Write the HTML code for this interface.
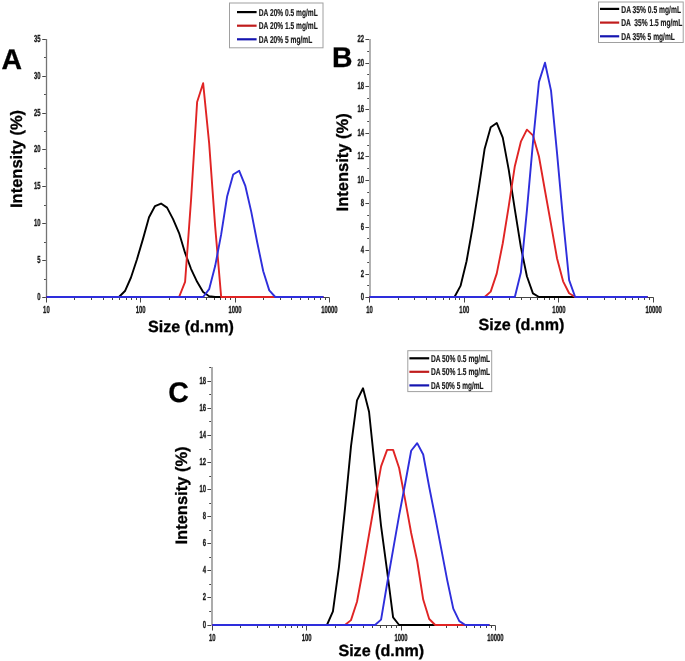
<!DOCTYPE html>
<html><head><meta charset="utf-8"><style>
html,body{margin:0;padding:0;background:#fff;}
body{width:685px;height:661px;overflow:hidden;}
svg{display:block;will-change:transform;text-rendering:geometricPrecision;font-family:"Liberation Sans", sans-serif;}
</style></head><body>
<svg width="685" height="661" viewBox="0 0 685 661">
<rect width="685" height="661" fill="#fff"/>
<path d="M46.4 297.5 H329.39" stroke="#454545" stroke-width="1" fill="none"/>
<path d="M46.5 39 V298" stroke="#747474" stroke-width="1.3" fill="none"/>
<g stroke="#454545" stroke-width="1" fill="none">
<path d="M42.25 297.5 H45.85"/>
<path d="M44.05 279.5 H45.85"/>
<path d="M42.25 260.5 H45.85"/>
<path d="M44.05 242.5 H45.85"/>
<path d="M42.25 223.5 H45.85"/>
<path d="M44.05 205.5 H45.85"/>
<path d="M42.25 186.5 H45.85"/>
<path d="M44.05 168.5 H45.85"/>
<path d="M42.25 149.5 H45.85"/>
<path d="M44.05 131.5 H45.85"/>
<path d="M42.25 113.5 H45.85"/>
<path d="M44.05 94.5 H45.85"/>
<path d="M42.25 76.5 H45.85"/>
<path d="M44.05 57.5 H45.85"/>
<path d="M42.25 39.5 H45.85"/>
<path d="M46.5 297.5 V302.5"/>
<path d="M74.5 297.5 V300"/>
<path d="M91.5 297.5 V300"/>
<path d="M103.5 297.5 V300"/>
<path d="M112.5 297.5 V300"/>
<path d="M119.5 297.5 V300"/>
<path d="M126.5 297.5 V300"/>
<path d="M131.5 297.5 V300"/>
<path d="M136.5 297.5 V300"/>
<path d="M140.5 297.5 V302.5"/>
<path d="M169.5 297.5 V300"/>
<path d="M185.5 297.5 V300"/>
<path d="M197.5 297.5 V300"/>
<path d="M206.5 297.5 V300"/>
<path d="M214.5 297.5 V300"/>
<path d="M220.5 297.5 V300"/>
<path d="M225.5 297.5 V300"/>
<path d="M230.5 297.5 V300"/>
<path d="M235.5 297.5 V302.5"/>
<path d="M263.5 297.5 V300"/>
<path d="M280.5 297.5 V300"/>
<path d="M291.5 297.5 V300"/>
<path d="M300.5 297.5 V300"/>
<path d="M308.5 297.5 V300"/>
<path d="M314.5 297.5 V300"/>
<path d="M320.5 297.5 V300"/>
<path d="M325.5 297.5 V300"/>
<path d="M329.5 297.5 V302.5"/>
</g>
<g fill="#1a1a1a" font-weight="bold" stroke="#1a1a1a" stroke-width="0.35">
<text transform="translate(40.5 299.9) scale(0.58 1)" text-anchor="end" font-size="10.2">0</text>
<text transform="translate(40.5 262.9) scale(0.58 1)" text-anchor="end" font-size="10.2">5</text>
<text transform="translate(40.5 225.9) scale(0.58 1)" text-anchor="end" font-size="10.2">10</text>
<text transform="translate(40.5 188.9) scale(0.58 1)" text-anchor="end" font-size="10.2">15</text>
<text transform="translate(40.5 151.9) scale(0.58 1)" text-anchor="end" font-size="10.2">20</text>
<text transform="translate(40.5 115.9) scale(0.58 1)" text-anchor="end" font-size="10.2">25</text>
<text transform="translate(40.5 78.9) scale(0.58 1)" text-anchor="end" font-size="10.2">30</text>
<text transform="translate(40.5 41.9) scale(0.58 1)" text-anchor="end" font-size="10.2">35</text>
<text transform="translate(46.4 312.8) scale(0.58 1)" text-anchor="middle" font-size="10.2">10</text>
<text transform="translate(140.73 312.8) scale(0.58 1)" text-anchor="middle" font-size="10.2">100</text>
<text transform="translate(235.06 312.8) scale(0.58 1)" text-anchor="middle" font-size="10.2">1000</text>
<text transform="translate(329.39 312.8) scale(0.58 1)" text-anchor="middle" font-size="10.2">10000</text>
</g>
<path d="M46.4 297 L46.81 297 L52.82 297 L58.83 297 L64.84 297 L70.86 297 L76.87 297 L82.88 297 L88.89 297 L94.91 297 L100.92 297 L106.93 297 L112.94 297 L118.95 297 L124.97 291.04 L130.98 277.5 L136.99 259.24 L143 238.86 L149.02 217.29 L155.03 206.03 L161.04 203.53 L167.05 207.65 L173.07 219.13 L179.08 233.04 L185.09 252.91 L191.1 269.03 L197.12 281.84 L203.13 292.07 L209.14 296.19 L215.15 297 L221.17 297 L227.18 297 L233.19 297 L239.2 297 L245.22 297 L251.23 297 L257.24 297 L263.25 297 L269.27 297 L275.28 297 L281.29 297 L287.3 297 L293.32 297 L299.33 297 L305.34 297 L311.35 297 L317.37 297 L323.38 297" fill="none" stroke="#000" stroke-width="1.9" stroke-linejoin="round"/>
<path d="M46.4 297 L46.81 297 L52.82 297 L58.83 297 L64.84 297 L70.86 297 L76.87 297 L82.88 297 L88.89 297 L94.91 297 L100.92 297 L106.93 297 L112.94 297 L118.95 297 L124.97 297 L130.98 297 L136.99 297 L143 297 L149.02 297 L155.03 297 L161.04 297 L167.05 297 L173.07 297 L179.08 297 L185.09 281.84 L191.1 199.11 L197.12 101.96 L203.13 83.19 L209.14 143.18 L215.15 226.34 L221.17 297 L227.18 297 L233.19 297 L239.2 297 L245.22 297 L251.23 297 L257.24 297 L263.25 297 L269.27 297 L275.28 297 L281.29 297 L287.3 297 L293.32 297 L299.33 297 L305.34 297 L311.35 297 L317.37 297 L323.38 297" fill="none" stroke="#e02424" stroke-width="1.9" stroke-linejoin="round"/>
<path d="M46.4 297 L46.81 297 L52.82 297 L58.83 297 L64.84 297 L70.86 297 L76.87 297 L82.88 297 L88.89 297 L94.91 297 L100.92 297 L106.93 297 L112.94 297 L118.95 297 L124.97 297 L130.98 297 L136.99 297 L143 297 L149.02 297 L155.03 297 L161.04 297 L167.05 297 L173.07 297 L179.08 297 L185.09 297 L191.1 297 L197.12 297 L203.13 297 L209.14 289.2 L215.15 266.09 L221.17 234.44 L227.18 196.17 L233.19 174.46 L239.2 170.78 L245.22 185.57 L251.23 211.62 L257.24 242.54 L263.25 271.24 L269.27 290.38 L275.28 297 L281.29 297 L287.3 297 L293.32 297 L299.33 297 L305.34 297 L311.35 297 L317.37 297 L323.38 297" fill="none" stroke="#2e2edc" stroke-width="1.9" stroke-linejoin="round"/>
<path d="M369.6 297.5 H653.61" stroke="#454545" stroke-width="1" fill="none"/>
<path d="M370 39 V298" stroke="#b2b2b2" stroke-width="2.0" fill="none"/>
<g stroke="#454545" stroke-width="1" fill="none">
<path d="M365.4 297.5 H369"/>
<path d="M367.2 285.5 H369"/>
<path d="M365.4 274.5 H369"/>
<path d="M367.2 262.5 H369"/>
<path d="M365.4 250.5 H369"/>
<path d="M367.2 238.5 H369"/>
<path d="M365.4 227.5 H369"/>
<path d="M367.2 215.5 H369"/>
<path d="M365.4 203.5 H369"/>
<path d="M367.2 192.5 H369"/>
<path d="M365.4 180.5 H369"/>
<path d="M367.2 168.5 H369"/>
<path d="M365.4 156.5 H369"/>
<path d="M367.2 145.5 H369"/>
<path d="M365.4 133.5 H369"/>
<path d="M367.2 121.5 H369"/>
<path d="M365.4 109.5 H369"/>
<path d="M367.2 98.5 H369"/>
<path d="M365.4 86.5 H369"/>
<path d="M367.2 74.5 H369"/>
<path d="M365.4 63.5 H369"/>
<path d="M367.2 51.5 H369"/>
<path d="M365.4 39.5 H369"/>
<path d="M369.5 297.5 V302.5"/>
<path d="M398.5 297.5 V300"/>
<path d="M414.5 297.5 V300"/>
<path d="M426.5 297.5 V300"/>
<path d="M435.5 297.5 V300"/>
<path d="M443.5 297.5 V300"/>
<path d="M449.5 297.5 V300"/>
<path d="M455.5 297.5 V300"/>
<path d="M459.5 297.5 V300"/>
<path d="M464.5 297.5 V302.5"/>
<path d="M492.5 297.5 V300"/>
<path d="M509.5 297.5 V300"/>
<path d="M521.5 297.5 V300"/>
<path d="M530.5 297.5 V300"/>
<path d="M537.5 297.5 V300"/>
<path d="M544.5 297.5 V300"/>
<path d="M549.5 297.5 V300"/>
<path d="M554.5 297.5 V300"/>
<path d="M558.5 297.5 V302.5"/>
<path d="M587.5 297.5 V300"/>
<path d="M604.5 297.5 V300"/>
<path d="M615.5 297.5 V300"/>
<path d="M625.5 297.5 V300"/>
<path d="M632.5 297.5 V300"/>
<path d="M638.5 297.5 V300"/>
<path d="M644.5 297.5 V300"/>
<path d="M649.5 297.5 V300"/>
<path d="M653.5 297.5 V302.5"/>
</g>
<g fill="#1a1a1a" font-weight="bold" stroke="#1a1a1a" stroke-width="0.35">
<text transform="translate(364 299.9) scale(0.58 1)" text-anchor="end" font-size="10.2">0</text>
<text transform="translate(364 276.9) scale(0.58 1)" text-anchor="end" font-size="10.2">2</text>
<text transform="translate(364 252.9) scale(0.58 1)" text-anchor="end" font-size="10.2">4</text>
<text transform="translate(364 229.9) scale(0.58 1)" text-anchor="end" font-size="10.2">6</text>
<text transform="translate(364 205.9) scale(0.58 1)" text-anchor="end" font-size="10.2">8</text>
<text transform="translate(364 182.9) scale(0.58 1)" text-anchor="end" font-size="10.2">10</text>
<text transform="translate(364 158.9) scale(0.58 1)" text-anchor="end" font-size="10.2">12</text>
<text transform="translate(364 135.9) scale(0.58 1)" text-anchor="end" font-size="10.2">14</text>
<text transform="translate(364 111.9) scale(0.58 1)" text-anchor="end" font-size="10.2">16</text>
<text transform="translate(364 88.9) scale(0.58 1)" text-anchor="end" font-size="10.2">18</text>
<text transform="translate(364 65.9) scale(0.58 1)" text-anchor="end" font-size="10.2">20</text>
<text transform="translate(364 41.9) scale(0.58 1)" text-anchor="end" font-size="10.2">22</text>
<text transform="translate(369.6 312.8) scale(0.58 1)" text-anchor="middle" font-size="10.2">10</text>
<text transform="translate(464.27 312.8) scale(0.58 1)" text-anchor="middle" font-size="10.2">100</text>
<text transform="translate(558.94 312.8) scale(0.58 1)" text-anchor="middle" font-size="10.2">1000</text>
<text transform="translate(653.61 312.8) scale(0.58 1)" text-anchor="middle" font-size="10.2">10000</text>
</g>
<path d="M369.6 297 L370.01 297 L376.04 297 L382.08 297 L388.11 297 L394.14 297 L400.18 297 L406.21 297 L412.25 297 L418.28 297 L424.31 297 L430.35 297 L436.38 297 L442.42 297 L448.45 297 L454.48 297 L460.52 285.9 L466.55 261.26 L472.59 227.39 L478.62 188.84 L484.66 148.66 L490.69 127.17 L496.72 122.97 L502.76 137.68 L508.79 170.16 L514.83 209.4 L520.86 247.13 L526.89 276.21 L532.93 293.38 L538.96 297 L545 297 L551.03 297 L557.06 297 L563.1 297 L569.13 297 L575.17 297 L581.2 297 L587.23 297 L593.27 297 L599.3 297 L605.34 297 L611.37 297 L617.41 297 L623.44 297 L629.47 297 L635.51 297 L641.54 297 L647.58 297" fill="none" stroke="#000" stroke-width="1.9" stroke-linejoin="round"/>
<path d="M369.6 297 L370.01 297 L376.04 297 L382.08 297 L388.11 297 L394.14 297 L400.18 297 L406.21 297 L412.25 297 L418.28 297 L424.31 297 L430.35 297 L436.38 297 L442.42 297 L448.45 297 L454.48 297 L460.52 297 L466.55 297 L472.59 297 L478.62 297 L484.66 297 L490.69 291.63 L496.72 273.64 L502.76 243.27 L508.79 205.9 L514.83 166.18 L520.86 141.66 L526.89 129.63 L532.93 135.35 L538.96 156.49 L545 190.71 L551.03 224.35 L557.06 258.46 L563.1 281.35 L569.13 293.26 L575.17 297 L581.2 297 L587.23 297 L593.27 297 L599.3 297 L605.34 297 L611.37 297 L617.41 297 L623.44 297 L629.47 297 L635.51 297 L641.54 297 L647.58 297" fill="none" stroke="#e02424" stroke-width="1.9" stroke-linejoin="round"/>
<path d="M369.6 297 L370.01 297 L376.04 297 L382.08 297 L388.11 297 L394.14 297 L400.18 297 L406.21 297 L412.25 297 L418.28 297 L424.31 297 L430.35 297 L436.38 297 L442.42 297 L448.45 297 L454.48 297 L460.52 297 L466.55 297 L472.59 297 L478.62 297 L484.66 297 L490.69 297 L496.72 297 L502.76 297 L508.79 297 L514.83 297 L520.86 272.47 L526.89 210.57 L532.93 142.82 L538.96 81.85 L545 62.7 L551.03 90.61 L557.06 153.34 L563.1 219.91 L569.13 280.06 L575.17 297 L581.2 297 L587.23 297 L593.27 297 L599.3 297 L605.34 297 L611.37 297 L617.41 297 L623.44 297 L629.47 297 L635.51 297 L641.54 297 L647.58 297" fill="none" stroke="#2e2edc" stroke-width="1.9" stroke-linejoin="round"/>
<path d="M212.2 625.5 H495.4" stroke="#454545" stroke-width="1" fill="none"/>
<path d="M212 367 V626" stroke="#ababab" stroke-width="2.0" fill="none"/>
<g stroke="#454545" stroke-width="1" fill="none">
<path d="M207.4 625.5 H211"/>
<path d="M209.2 611.5 H211"/>
<path d="M207.4 597.5 H211"/>
<path d="M209.2 584.5 H211"/>
<path d="M207.4 570.5 H211"/>
<path d="M209.2 557.5 H211"/>
<path d="M207.4 543.5 H211"/>
<path d="M209.2 530.5 H211"/>
<path d="M207.4 516.5 H211"/>
<path d="M209.2 503.5 H211"/>
<path d="M207.4 489.5 H211"/>
<path d="M209.2 476.5 H211"/>
<path d="M207.4 462.5 H211"/>
<path d="M209.2 449.5 H211"/>
<path d="M207.4 435.5 H211"/>
<path d="M209.2 421.5 H211"/>
<path d="M207.4 408.5 H211"/>
<path d="M209.2 394.5 H211"/>
<path d="M207.4 381.5 H211"/>
<path d="M209.2 367.5 H211"/>
<path d="M212.5 625.5 V630.5"/>
<path d="M240.5 625.5 V628"/>
<path d="M257.5 625.5 V628"/>
<path d="M269.5 625.5 V628"/>
<path d="M278.5 625.5 V628"/>
<path d="M285.5 625.5 V628"/>
<path d="M291.5 625.5 V628"/>
<path d="M297.5 625.5 V628"/>
<path d="M302.5 625.5 V628"/>
<path d="M306.5 625.5 V630.5"/>
<path d="M335.5 625.5 V628"/>
<path d="M351.5 625.5 V628"/>
<path d="M363.5 625.5 V628"/>
<path d="M372.5 625.5 V628"/>
<path d="M380.5 625.5 V628"/>
<path d="M386.5 625.5 V628"/>
<path d="M391.5 625.5 V628"/>
<path d="M396.5 625.5 V628"/>
<path d="M401.5 625.5 V630.5"/>
<path d="M429.5 625.5 V628"/>
<path d="M446.5 625.5 V628"/>
<path d="M457.5 625.5 V628"/>
<path d="M466.5 625.5 V628"/>
<path d="M474.5 625.5 V628"/>
<path d="M480.5 625.5 V628"/>
<path d="M486.5 625.5 V628"/>
<path d="M491.5 625.5 V628"/>
<path d="M495.5 625.5 V630.5"/>
</g>
<g fill="#1a1a1a" font-weight="bold" stroke="#1a1a1a" stroke-width="0.35">
<text transform="translate(206 627.9) scale(0.58 1)" text-anchor="end" font-size="10.2">0</text>
<text transform="translate(206 599.9) scale(0.58 1)" text-anchor="end" font-size="10.2">2</text>
<text transform="translate(206 572.9) scale(0.58 1)" text-anchor="end" font-size="10.2">4</text>
<text transform="translate(206 545.9) scale(0.58 1)" text-anchor="end" font-size="10.2">6</text>
<text transform="translate(206 518.9) scale(0.58 1)" text-anchor="end" font-size="10.2">8</text>
<text transform="translate(206 491.9) scale(0.58 1)" text-anchor="end" font-size="10.2">10</text>
<text transform="translate(206 464.9) scale(0.58 1)" text-anchor="end" font-size="10.2">12</text>
<text transform="translate(206 437.9) scale(0.58 1)" text-anchor="end" font-size="10.2">14</text>
<text transform="translate(206 410.9) scale(0.58 1)" text-anchor="end" font-size="10.2">16</text>
<text transform="translate(206 383.9) scale(0.58 1)" text-anchor="end" font-size="10.2">18</text>
<text transform="translate(212.2 640.8) scale(0.58 1)" text-anchor="middle" font-size="10.2">10</text>
<text transform="translate(306.6 640.8) scale(0.58 1)" text-anchor="middle" font-size="10.2">100</text>
<text transform="translate(401 640.8) scale(0.58 1)" text-anchor="middle" font-size="10.2">1000</text>
<text transform="translate(495.4 640.8) scale(0.58 1)" text-anchor="middle" font-size="10.2">10000</text>
</g>
<path d="M212.2 625 L212.61 625 L218.62 625 L224.64 625 L230.66 625 L236.67 625 L242.69 625 L248.71 625 L254.72 625 L260.74 625 L266.76 625 L272.78 625 L278.79 625 L284.81 625 L290.83 625 L296.84 625 L302.86 625 L308.88 625 L314.89 625 L320.91 625 L326.93 625 L332.94 611.47 L338.96 566.82 L344.98 508.64 L350.99 446.4 L357.01 400.4 L363.03 388.23 L369.05 411.77 L375.06 469.4 L381.08 526.23 L387.1 570.88 L393.11 617.42 L399.13 625 L405.15 625 L411.16 625 L417.18 625 L423.2 625 L429.21 625 L435.23 625 L441.25 625 L447.26 625 L453.28 625 L459.3 625 L465.32 625 L471.33 625 L477.35 625 L483.37 625 L489.38 625" fill="none" stroke="#000" stroke-width="1.9" stroke-linejoin="round"/>
<path d="M212.2 625 L212.61 625 L218.62 625 L224.64 625 L230.66 625 L236.67 625 L242.69 625 L248.71 625 L254.72 625 L260.74 625 L266.76 625 L272.78 625 L278.79 625 L284.81 625 L290.83 625 L296.84 625 L302.86 625 L308.88 625 L314.89 625 L320.91 625 L326.93 625 L332.94 625 L338.96 625 L344.98 625 L350.99 620.13 L357.01 601.73 L363.03 569.26 L369.05 534.48 L375.06 499.85 L381.08 466.43 L387.1 449.92 L393.11 449.92 L399.13 468.05 L405.15 499.85 L411.16 533 L417.18 561 L423.2 599.56 L429.21 619.05 L435.23 625 L441.25 625 L447.26 625 L453.28 625 L459.3 625 L465.32 625 L471.33 625 L477.35 625 L483.37 625 L489.38 625" fill="none" stroke="#e02424" stroke-width="1.9" stroke-linejoin="round"/>
<path d="M212.2 625 L212.61 625 L218.62 625 L224.64 625 L230.66 625 L236.67 625 L242.69 625 L248.71 625 L254.72 625 L260.74 625 L266.76 625 L272.78 625 L278.79 625 L284.81 625 L290.83 625 L296.84 625 L302.86 625 L308.88 625 L314.89 625 L320.91 625 L326.93 625 L332.94 625 L338.96 625 L344.98 625 L350.99 625 L357.01 625 L363.03 625 L369.05 625 L375.06 625 L381.08 619.59 L387.1 583.73 L393.11 549.64 L399.13 515.41 L405.15 483.75 L411.16 450.73 L417.18 443.16 L423.2 454.52 L429.21 486.99 L435.23 517.44 L441.25 548.83 L447.26 580.35 L453.28 608.63 L459.3 621.08 L465.32 625 L471.33 625 L477.35 625 L483.37 625 L489.38 625" fill="none" stroke="#2e2edc" stroke-width="1.9" stroke-linejoin="round"/>
<rect x="229.5" y="3" width="93.5" height="44.8" fill="#fff" stroke="#a0a0a0" stroke-width="1"/>
<path d="M237 12.1 H256.6" stroke="#000" stroke-width="2.2"/>
<text x="258.8" y="15.7" font-size="10" font-weight="bold" fill="#1a1a1a" stroke="#1a1a1a" stroke-width="0.2" textLength="59" lengthAdjust="spacingAndGlyphs">DA 20% 0.5 mg/mL</text>
<path d="M237 25.7 H256.6" stroke="#c01c1c" stroke-width="2.2"/>
<text x="258.8" y="29.3" font-size="10" font-weight="bold" fill="#1a1a1a" stroke="#1a1a1a" stroke-width="0.2" textLength="59" lengthAdjust="spacingAndGlyphs">DA 20% 1.5 mg/mL</text>
<path d="M237 39.3 H256.6" stroke="#1515b0" stroke-width="2.2"/>
<text x="258.8" y="42.9" font-size="10" font-weight="bold" fill="#1a1a1a" stroke="#1a1a1a" stroke-width="0.2" textLength="53.4" lengthAdjust="spacingAndGlyphs">DA 20% 5 mg/mL</text>
<rect x="598.5" y="2" width="84.7" height="40.5" fill="#fff" stroke="#a0a0a0" stroke-width="1"/>
<path d="M600 8.9 H619.2" stroke="#000" stroke-width="2.2"/>
<text x="621.3" y="12.5" font-size="10" font-weight="bold" fill="#1a1a1a" stroke="#1a1a1a" stroke-width="0.2" textLength="59.7" lengthAdjust="spacingAndGlyphs">DA 35% 0.5 mg/mL</text>
<path d="M600 22.6 H619.2" stroke="#c01c1c" stroke-width="2.2"/>
<text x="621.3" y="26.2" font-size="10" font-weight="bold" fill="#1a1a1a" stroke="#1a1a1a" stroke-width="0.2" textLength="61" lengthAdjust="spacingAndGlyphs">DA &#160;35% 1.5 mg/mL</text>
<path d="M600 36.3 H619.2" stroke="#1515b0" stroke-width="2.2"/>
<text x="621.3" y="39.9" font-size="10" font-weight="bold" fill="#1a1a1a" stroke="#1a1a1a" stroke-width="0.2" textLength="53.6" lengthAdjust="spacingAndGlyphs">DA 35% 5 mg/mL</text>
<rect x="407.8" y="350.7" width="83.9" height="40.9" fill="#fff" stroke="#a0a0a0" stroke-width="1"/>
<path d="M409.4 358.3 H429.2" stroke="#000" stroke-width="2.2"/>
<text x="430.9" y="361.9" font-size="10" font-weight="bold" fill="#1a1a1a" stroke="#1a1a1a" stroke-width="0.2" textLength="59.3" lengthAdjust="spacingAndGlyphs">DA 50% 0.5 mg/mL</text>
<path d="M409.4 371.8 H429.2" stroke="#c01c1c" stroke-width="2.2"/>
<text x="430.9" y="375.4" font-size="10" font-weight="bold" fill="#1a1a1a" stroke="#1a1a1a" stroke-width="0.2" textLength="59.3" lengthAdjust="spacingAndGlyphs">DA 50% 1.5 mg/mL</text>
<path d="M409.4 385.4 H429.2" stroke="#1515b0" stroke-width="2.2"/>
<text x="430.9" y="389" font-size="10" font-weight="bold" fill="#1a1a1a" stroke="#1a1a1a" stroke-width="0.2" textLength="52.6" lengthAdjust="spacingAndGlyphs">DA 50% 5 mg/mL</text>
<g font-weight="bold" fill="#000" stroke="#000" stroke-width="0.3">
<text x="1.5" y="68.7" font-size="28.4">A</text>
<text x="332.0" y="67.1" font-size="28.4">B</text>
<text x="168.3" y="401.8" font-size="28.4">C</text>
<text x="148.0" y="331.7" font-size="16.1">Size (d.nm)</text>
<text x="478.5" y="329.6" font-size="16.1">Size (d.nm)</text>
<text x="338.4" y="656.0" font-size="16.1">Size (d.nm)</text>
<text transform="translate(22.4 208.0) rotate(-90)" font-size="16.5">Intensity (%)</text>
<text transform="translate(347.6 211.4) rotate(-90)" font-size="16.5">Intensity (%)</text>
<text transform="translate(187.4 544.5) rotate(-90)" font-size="16.5">Intensity (%)</text>
</g>
</svg>
</body></html>
